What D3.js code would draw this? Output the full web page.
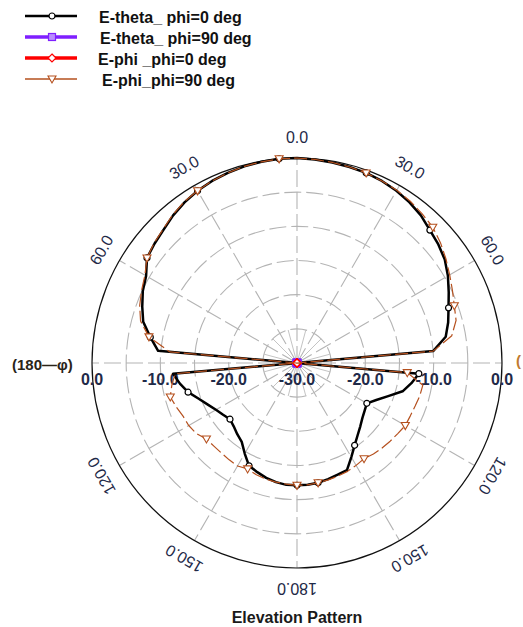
<!DOCTYPE html>
<html>
<head>
<meta charset="utf-8">
<script src="https://cdn.jsdelivr.net/npm/d3@7"></script>
<style>
  body { margin: 0; background: #fff; }
  svg { display: block; }
  text { font-family: "Liberation Sans", Arial, sans-serif; }
</style>
</head>
<body>
<div id="chart"></div>
<script>
// angles in degrees, 0 = top, clockwise; negative side is the (180-phi) half
const angles = d3.range(-180, 185, 5);

// E-theta, phi=0 deg (dB)
const eThetaPhi0 = [
  -12.1, -12.1, -12.3, -12.6, -13.0, -13.4, -14.7, -15.9, -16.4, -16.9,
  -17.2, -16.8, -16.3, -15.6, -14.7, -13.5, -12.6, -11.8, -40, -9.6,
  -8.2, -6.7, -5.9, -5.1, -4.5, -3.2, -2.8, -2.4, -1.8, -1.3,
  -0.9, -0.6, -0.4, -0.2, -0.1, 0.0, 0.0, -0.1, -0.2, -0.3,
  -0.4, -0.6, -0.9, -1.3, -1.8, -2.5, -3.0, -3.6, -4.5, -5.5,
  -6.4, -7.1, -7.9, -10.0, -40, -12.1, -13.0, -14.0, -15.8, -17.2,
  -18.2, -17.9, -17.5, -16.9, -16.2, -15.3, -14.1, -12.7, -12.6, -12.4,
  -12.2, -12.1, -12.1
];

// E-phi, phi=90 deg (dB)
const ePhiPhi90 = [
  -12.1, -12.2, -12.3, -12.4, -12.6, -12.9, -12.6, -12.7, -12.8, -12.8,
  -12.7, -12.0, -11.7, -11.6, -11.2, -10.8, -11.4, -12.1, -40, -11.3,
  -8.0, -6.3, -5.5, -4.9, -4.3, -3.2, -2.7, -2.3, -1.7, -1.2,
  -0.9, -0.6, -0.4, -0.2, -0.1, 0.0, 0.0, -0.1, -0.2, -0.3,
  -0.4, -0.6, -0.8, -1.1, -1.5, -1.9, -2.6, -3.4, -4.2, -4.9,
  -5.5, -5.9, -7.0, -10.0, -40, -13.8, -11.3, -11.4, -11.6, -11.7,
  -11.7, -12.0, -12.2, -12.4, -12.6, -12.9, -12.7, -12.5, -12.4, -12.3,
  -12.2, -12.1, -12.1
];

// the cross-pol cuts sit below the -30 dB floor
const xAngles = [-180, -155, -130, -105, -80, -55, -30, -5, 20, 45, 70, 95, 120, 145, 170];
const eThetaPhi90 = [-42, -44, -47, -45, -41, -43, -46, -48, -46, -43, -41, -45, -47, -44, -42];
const ePhiPhi0 = [-45, -41, -43, -46, -44, -42, -47, -49, -47, -42, -44, -46, -43, -41, -45];

const ringValues = [-25, -20, -15, -10, -5];
const spokeAngles = [0, 30, 60, 90, 120, 150, 180, 210, 240, 270, 300, 330];
const innerSpokes = [15, 45, 75, 105, 135, 165, 195, 225, 255, 285, 315, 345];
const angleTicks = [0, 30, 60, 120, 150, 180, -30, -60, -120, -150];
const radialTicks = [0, -10, -20, -30];

const legendNames = ['E-theta_ phi=0 deg', 'E-theta_ phi=90 deg', 'E-phi _phi=0 deg', 'E-phi_phi=90 deg'];

const W = 523, H = 627;
const cx = 297, cy = 363, R = 205;
const rad = Math.PI / 180;

const r = d3.scaleLinear().domain([-30, 0]).range([0, R]).clamp(true);

const svg = d3.select('#chart').append('svg')
  .attr('width', W).attr('height', H);

const g = svg.append('g').attr('transform', `translate(${cx},${cy})`);

// grid
g.selectAll('.ring').data(ringValues).enter().append('circle')
  .attr('class', 'ring')
  .attr('r', d => r(d))
  .attr('fill', 'none')
  .attr('stroke', '#b4b4b4')
  .attr('stroke-width', 1.1)
  .attr('stroke-dasharray', '17,5');

g.selectAll('.spoke').data(spokeAngles).enter().append('line')
  .attr('class', 'spoke')
  .attr('x1', 0).attr('y1', 0)
  .attr('x2', d => R * Math.sin(d * rad))
  .attr('y2', d => -R * Math.cos(d * rad))
  .attr('stroke', '#b4b4b4')
  .attr('stroke-width', 1.1)
  .attr('stroke-dasharray', '17,5');

g.selectAll('.ispoke').data(innerSpokes).enter().append('line')
  .attr('class', 'ispoke')
  .attr('x1', d => 5 * Math.sin(d * rad))
  .attr('y1', d => -5 * Math.cos(d * rad))
  .attr('x2', d => r(-25) * Math.sin(d * rad))
  .attr('y2', d => -r(-25) * Math.cos(d * rad))
  .attr('stroke', '#c4c4c4')
  .attr('stroke-width', 1);

g.append('circle')
  .attr('r', R)
  .attr('fill', 'none')
  .attr('stroke', '#111')
  .attr('stroke-width', 1.2);

// angle labels
g.selectAll('.alab').data(angleTicks).enter().append('text')
  .attr('class', 'alab')
  .attr('transform', d => {
    const x = 226 * Math.sin(d * rad), y = -226 * Math.cos(d * rad);
    return `translate(${x},${y}) rotate(${d})`;
  })
  .attr('dy', '0.36em')
  .attr('text-anchor', 'middle')
  .attr('font-size', 16)
  .attr('fill', '#1f2a48')
  .text(d => Math.abs(d).toFixed(1));

// radial labels on the horizontal axis
const radialLab = [];
radialTicks.forEach(v => {
  radialLab.push({ v: v, side: -1 });
  if (v !== -30) radialLab.push({ v: v, side: 1 });
});
g.selectAll('.rlab').data(radialLab).enter().append('text')
  .attr('class', 'rlab')
  .attr('x', d => d.side * r(d.v))
  .attr('y', 22)
  .attr('text-anchor', 'middle')
  .attr('font-size', 16)
  .attr('font-weight', 'bold')
  .attr('fill', '#1f2a48')
  .text(d => d.v.toFixed(1));

// series
const series = [
  { name: legendNames[0], a: angles, v: eThetaPhi0, color: '#000000', width: 2.5, dash: null, marker: 'circle' },
  { name: legendNames[1], a: xAngles, v: eThetaPhi90, color: '#7f1fff', width: 2.5, dash: null, marker: 'square' },
  { name: legendNames[2], a: xAngles, v: ePhiPhi0, color: '#ff0000', width: 2.5, dash: null, marker: 'diamond' },
  { name: legendNames[3], a: angles, v: ePhiPhi90, color: '#b5501e', width: 1.2, dash: '13,4', marker: 'triangle' }
];

const line = d3.lineRadial()
  .angle(d => d[0] * rad)
  .radius(d => r(d[1]));

function drawMarker(sel, s) {
  if (s.marker === 'circle') {
    sel.append('circle').attr('r', 3)
      .attr('fill', '#fff').attr('stroke', s.color).attr('stroke-width', 1.2);
  } else if (s.marker === 'square') {
    sel.append('rect').attr('x', -3.5).attr('y', -3.5).attr('width', 7).attr('height', 7)
      .attr('fill', '#b98cff').attr('stroke', s.color).attr('stroke-width', 1.2);
  } else if (s.marker === 'diamond') {
    sel.append('path').attr('d', 'M0,-4L4,0L0,4L-4,0Z')
      .attr('fill', '#fff').attr('stroke', s.color).attr('stroke-width', 1.2);
  } else {
    sel.append('path').attr('d', 'M-4,-3L4,-3L0,4Z')
      .attr('fill', '#fff').attr('stroke', s.color).attr('stroke-width', 1.1);
  }
}

series.forEach(s => {
  const pts = s.a.map((a, i) => [a, s.v[i]]);
  const path = g.append('path')
    .attr('d', line(pts))
    .attr('fill', 'none')
    .attr('stroke', s.color)
    .attr('stroke-width', s.width)
    .attr('stroke-linejoin', 'round');
  if (s.dash) path.attr('stroke-dasharray', s.dash);

  const mk = pts.filter(p => xAngles.includes(p[0]));
  g.selectAll(null).data(mk).enter().append('g')
    .attr('transform', p => {
      const rr = r(p[1]);
      return `translate(${rr * Math.sin(p[0] * rad)},${-rr * Math.cos(p[0] * rad)})`;
    })
    .each(function () { drawMarker(d3.select(this), s); });
});

// side labels
svg.append('text')
  .attr('x', 12).attr('y', 370)
  .attr('font-family', '"Liberation Serif", serif')
  .attr('font-size', 15)
  .attr('font-weight', 'bold')
  .attr('fill', '#2a2418')
  .text('(180\u2014\u03c6)');

svg.append('text')
  .attr('x', 516).attr('y', 366)
  .attr('font-family', '"Liberation Serif", serif')
  .attr('font-size', 15)
  .attr('font-weight', 'bold')
  .attr('fill', '#c07a30')
  .text('(');

// legend
const legendWidths = [2.5, 3.5, 3.5, 1.5];
const leg = svg.selectAll('.leg').data(series).enter().append('g')
  .attr('class', 'leg')
  .attr('transform', (d, i) => `translate(0,${16 + i * 21})`);
leg.append('line')
  .attr('x1', 25).attr('x2', 77).attr('y1', 0).attr('y2', 0)
  .attr('stroke', d => d.color)
  .attr('stroke-width', (d, i) => legendWidths[i]);
leg.append('g')
  .attr('transform', 'translate(52,0)')
  .each(function (d) { drawMarker(d3.select(this), d); });
leg.append('text')
  .attr('x', (d, i) => [99, 100, 98, 102][i])
  .attr('y', 7)
  .attr('font-size', 16)
  .attr('font-weight', 'bold')
  .attr('fill', '#111')
  .text(d => d.name);

// title
svg.append('text')
  .attr('x', 297).attr('y', 623)
  .attr('text-anchor', 'middle')
  .attr('font-size', 16)
  .attr('font-weight', 'bold')
  .attr('fill', '#1a1a1a')
  .text('Elevation Pattern');
</script>
</body>
</html>
